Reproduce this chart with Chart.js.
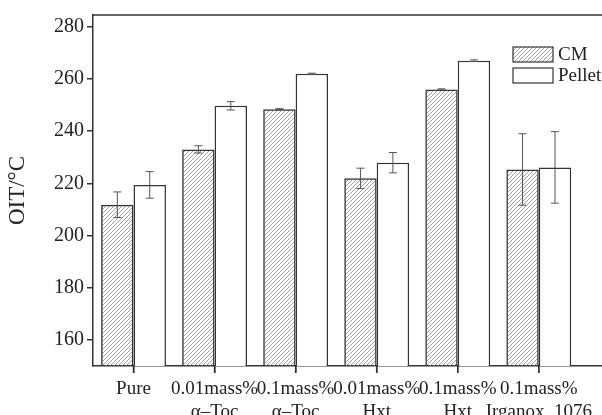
<!DOCTYPE html>
<html lang="en">
<head>
  <meta charset="UTF-8" />
  <title>OIT</title>
  <script src="https://cdn.jsdelivr.net/npm/chart.js"></script>
  <style>
    body { margin: 0; background: #fff; }
    #wrap { width: 602px; height: 415px; }
  </style>
</head>
<body>
<div id="wrap"><canvas id="oitChart" width="602" height="415"></canvas></div>
<script>
  const categories = [
    ['Pure'],
    ['0.01mass%', 'α–Toc'],
    ['0.1mass%', 'α–Toc'],
    ['0.01mass%', 'Hxt'],
    ['0.1mass%', 'Hxt'],
    ['0.1mass%', 'Irganox  1076']
  ];
  const cmValues = [211.8, 233.0, 248.4, 221.9, 256.0, 225.3];
  const cmErrors = [4.9, 1.4, 0.2, 3.9, 0.2, 13.7];
  const pelletValues = [219.4, 249.7, 262.0, 227.9, 267.0, 226.1];
  const pelletErrors = [5.1, 1.6, 0.2, 3.9, 0.3, 13.7];
  const yTicks = [160, 180, 200, 220, 240, 260, 280];

  const ink = '#333';
  const font = 'Liberation Serif, Times New Roman, serif';

  // diagonal hatch for CM bars
  function makeHatch() {
    const c = document.createElement('canvas');
    c.width = 4; c.height = 4;
    const g = c.getContext('2d');
    g.strokeStyle = '#8a8a8a';
    g.lineWidth = 0.8;
    g.beginPath();
    g.moveTo(0, 4); g.lineTo(4, 0);
    g.moveTo(-1, 1); g.lineTo(1, -1);
    g.moveTo(3, 5); g.lineTo(5, 3);
    g.stroke();
    return g.createPattern(c, 'repeat');
  }
  const hatch = makeHatch();

  const errorBars = {
    id: 'errorBars',
    afterDatasetsDraw(chart) {
      const ctx = chart.ctx;
      const y = chart.scales.y;
      const errs = [cmErrors, pelletErrors];
      ctx.save();
      ctx.strokeStyle = '#555';
      ctx.lineWidth = 1;
      chart.data.datasets.forEach((ds, di) => {
        chart.getDatasetMeta(di).data.forEach((bar, i) => {
          const v = ds.data[i].y;
          const e = errs[di][i];
          const top = y.getPixelForValue(v + e);
          const bot = y.getPixelForValue(v - e);
          ctx.beginPath();
          ctx.moveTo(bar.x, top); ctx.lineTo(bar.x, bot);
          ctx.moveTo(bar.x - 4, top); ctx.lineTo(bar.x + 4, top);
          ctx.moveTo(bar.x - 4, bot); ctx.lineTo(bar.x + 4, bot);
          ctx.stroke();
        });
      });
      ctx.restore();
    }
  };

  const frameAndLegend = {
    id: 'frameAndLegend',
    afterDraw(chart) {
      const ctx = chart.ctx;
      const a = chart.chartArea;
      const x = chart.scales.x;
      ctx.save();
      ctx.strokeStyle = ink;
      ctx.lineWidth = 1.5;
      ctx.beginPath();
      ctx.moveTo(a.left, a.top); ctx.lineTo(a.right, a.top);
      // x tick marks under the axis
      categories.forEach((c, i) => {
        const px = x.getPixelForValue(i + 1);
        ctx.moveTo(px, a.bottom); ctx.lineTo(px, a.bottom + 7);
      });
      ctx.stroke();

      // legend
      const lx = 513, ly = [47, 68];
      ctx.font = '19px ' + font;
      ctx.textBaseline = 'middle';
      chart.data.datasets.forEach((ds, i) => {
        ctx.fillStyle = ds.backgroundColor;
        ctx.fillRect(lx, ly[i], 40, 15);
        ctx.lineWidth = 1.2;
        ctx.strokeStyle = ink;
        ctx.strokeRect(lx, ly[i], 40, 15);
        ctx.fillStyle = '#222';
        ctx.fillText(ds.label, lx + 45, ly[i] + 8);
      });
      ctx.restore();
    }
  };

  new Chart(document.getElementById('oitChart'), {
    type: 'bar',
    data: {
      datasets: [
        {
          label: 'CM',
          data: cmValues.map((v, i) => ({ x: i + 1, y: v })),
          backgroundColor: hatch,
          borderColor: ink,
          borderWidth: 1.5
        },
        {
          label: 'Pellet',
          data: pelletValues.map((v, i) => ({ x: i + 1, y: v })),
          backgroundColor: '#fff',
          borderColor: ink,
          borderWidth: 1.5
        }
      ]
    },
    options: {
      responsive: false,
      animation: false,
      layout: { padding: { top: 13, right: 0, left: 0, bottom: 0 } },
      datasets: { bar: { categoryPercentage: 0.8, barPercentage: 1.0 } },
      plugins: { legend: { display: false }, tooltip: { enabled: false } },
      scales: {
        x: {
          type: 'linear',
          offset: false,
          min: 0.5,
          max: 6.78,
          afterFit: s => { s.height = 49; },
          afterBuildTicks: s => { s.ticks = categories.map((c, i) => ({ value: i + 1 })); },
          grid: { offset: false, drawOnChartArea: false, tickLength: 7, color: ink, lineWidth: 1.5 },
          border: { color: ink, width: 1.5 },
          ticks: {
            autoSkip: false,
            maxRotation: 0,
            padding: 5,
            color: '#222',
            font: { family: font, size: 19 },
            callback: v => categories[v - 1]
          }
        },
        y: {
          min: 150,
          max: 284.5,
          afterFit: s => { s.width = 93; },
          afterBuildTicks: s => { s.ticks = yTicks.map(v => ({ value: v })); },
          grid: { drawOnChartArea: false, tickLength: 6, color: ink, lineWidth: 1.5 },
          border: { color: ink, width: 1.5 },
          ticks: {
            padding: 3,
            color: '#222',
            font: { family: font, size: 20 }
          },
          title: {
            display: true,
            text: 'OIT/°C',
            color: '#222',
            font: { family: font, size: 23 },
            padding: { top: 4, bottom: 0 }
          }
        }
      }
    },
    plugins: [errorBars, frameAndLegend]
  });
</script>
</body>
</html>
